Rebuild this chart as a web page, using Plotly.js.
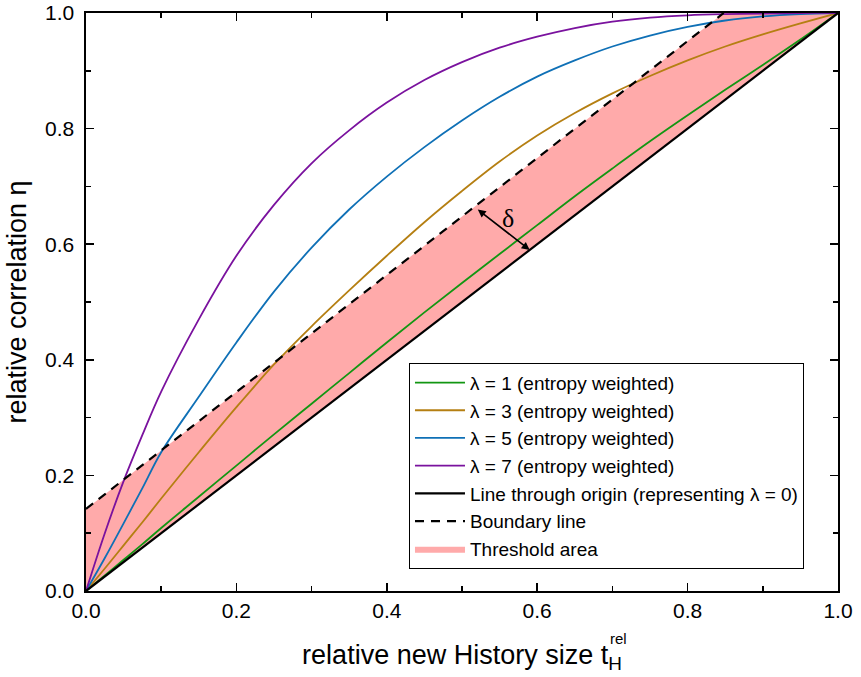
<!DOCTYPE html>
<html>
<head>
<meta charset="utf-8">
<script src="https://cdn.plot.ly/plotly-3.0.1.min.js"></script>
<style>html,body{margin:0;padding:0;background:#fff;}#chart{width:861px;height:677px;}</style>
</head>
<body>
<div id="chart"></div>
<script>
const xGrid = [0, 0.025, 0.05, 0.075, 0.1, 0.15, 0.2, 0.25, 0.3, 0.35, 0.4, 0.45, 0.5, 0.55, 0.6, 0.65, 0.7, 0.75, 0.8, 0.85, 0.9, 0.95, 1];
const lambda1 = [0, 0.027, 0.054, 0.081, 0.109, 0.163, 0.217, 0.271, 0.324, 0.377, 0.43, 0.482, 0.533, 0.583, 0.633, 0.683, 0.731, 0.778, 0.823, 0.867, 0.91, 0.954, 1.0];
const lambda3 = [0, 0.039, 0.079, 0.119, 0.16, 0.24, 0.318, 0.392, 0.458, 0.52, 0.58, 0.638, 0.692, 0.743, 0.788, 0.827, 0.861, 0.891, 0.918, 0.942, 0.963, 0.982, 1.0];
const lambda5 = [0, 0.057, 0.117, 0.178, 0.24, 0.336, 0.43, 0.518, 0.594, 0.66, 0.717, 0.768, 0.814, 0.855, 0.89, 0.918, 0.942, 0.961, 0.976, 0.987, 0.994, 0.998, 1.0];
const lambda7 = [0, 0.1, 0.19, 0.27, 0.345, 0.47, 0.58, 0.668, 0.74, 0.797, 0.845, 0.884, 0.915, 0.94, 0.959, 0.974, 0.985, 0.992, 0.996, 0.998, 0.999, 1.0, 1.0];
const originX = [0, 1];
const originY = [0, 1];
const boundaryX = [0, 0.848];
const boundaryY = [0.142, 1.0];
const areaX = [0, 0, 0.848, 1, 0];
const areaY = [0, 0.142, 1.0, 1, 0];
const xTicks = [0, 0.2, 0.4, 0.6, 0.8, 1.0];
const yTicks = [0, 0.2, 0.4, 0.6, 0.8, 1.0];
const deltaArrow = {x0: 0.519, y0: 0.662, x1: 0.590, y1: 0.590};
const deltaLabel = {x: 0.561, y: 0.645};

const traces = [
  {x: areaX, y: areaY, type: 'scatter', mode: 'lines', fill: 'toself', fillcolor: '#ffaaaa',
   line: {width: 0, color: '#ffaaaa'}, name: 'Threshold area', legendrank: 7, hoverinfo: 'skip'},
  {x: xGrid, y: lambda1, type: 'scatter', mode: 'lines', line: {color: '#129612', width: 1.8, shape: 'spline', smoothing: 1},
   name: 'λ = 1 (entropy weighted)', legendrank: 1},
  {x: xGrid, y: lambda3, type: 'scatter', mode: 'lines', line: {color: '#b57f12', width: 1.8, shape: 'spline', smoothing: 1},
   name: 'λ = 3 (entropy weighted)', legendrank: 2},
  {x: xGrid, y: lambda5, type: 'scatter', mode: 'lines', line: {color: '#0f70b6', width: 1.8, shape: 'spline', smoothing: 1},
   name: 'λ = 5 (entropy weighted)', legendrank: 3},
  {x: xGrid, y: lambda7, type: 'scatter', mode: 'lines', line: {color: '#7a129e', width: 1.8, shape: 'spline', smoothing: 1},
   name: 'λ = 7 (entropy weighted)', legendrank: 4},
  {x: originX, y: originY, type: 'scatter', mode: 'lines', line: {color: '#000', width: 2.2},
   name: 'Line through origin (representing λ = 0)', legendrank: 5},
  {x: boundaryX, y: boundaryY, type: 'scatter', mode: 'lines', line: {color: '#000', width: 2.2, dash: '9px,7px'},
   name: 'Boundary line', legendrank: 6}
];

const axisCommon = {
  range: [0, 1], showgrid: false, zeroline: false, showline: true, linecolor: '#000', linewidth: 1.6,
  mirror: 'ticks', ticks: 'inside', ticklen: 8, tickwidth: 1.6, tickcolor: '#000',
  tickformat: '.1f', tickfont: {family: 'Liberation Sans, Arial, sans-serif', size: 21, color: '#000'},
  minor: {ticks: 'inside', ticklen: 5, tickwidth: 1.6, tickcolor: '#000', dtick: 0.1}
};

const layout = {
  width: 861, height: 677,
  margin: {l: 86, r: 23, t: 13, b: 86},
  paper_bgcolor: '#fff', plot_bgcolor: '#fff',
  font: {family: 'Liberation Sans, Arial, sans-serif', color: '#000'},
  showlegend: true,
  xaxis: Object.assign({}, axisCommon, {
    tickvals: xTicks,
    title: {text: 'relative new History size t<sub>H</sub>', font: {size: 27}, standoff: 24}
  }),
  yaxis: Object.assign({}, axisCommon, {
    tickvals: yTicks, ticklabelstandoff: 6,
    title: {text: 'relative correlation η', font: {size: 27}, standoff: 10}
  }),
  legend: {
    x: 0.4295, y: 0.395, xanchor: 'left', yanchor: 'top',
    bgcolor: '#fff', bordercolor: '#000', borderwidth: 1,
    font: {size: 19, family: 'Liberation Sans, Arial, sans-serif', color: '#000'},
    itemwidth: 50, tracegroupgap: 0, traceorder: 'normal'
  },
  annotations: [
    {x: deltaArrow.x1, y: deltaArrow.y1, ax: deltaArrow.x0, ay: deltaArrow.y0, xref: 'x', yref: 'y', axref: 'x', ayref: 'y',
     text: '', showarrow: true, arrowside: 'end+start', arrowhead: 2, arrowsize: 1, arrowwidth: 1.6, arrowcolor: '#000', standoff: 0, startstandoff: 0},
    {x: deltaLabel.x, y: deltaLabel.y, xref: 'x', yref: 'y', text: 'δ', showarrow: false,
     font: {family: 'Liberation Serif, Times New Roman, serif', size: 26, color: '#000'}},
    {x: 0.694, y: -0.083, xref: 'paper', yref: 'paper', text: 'rel', showarrow: false, xanchor: 'left', yanchor: 'middle',
     font: {size: 15, family: 'Liberation Sans, Arial, sans-serif', color: '#000'}}
  ]
};

Plotly.newPlot('chart', traces, layout, {displayModeBar: false, staticPlot: true});
</script>
</body>
</html>
